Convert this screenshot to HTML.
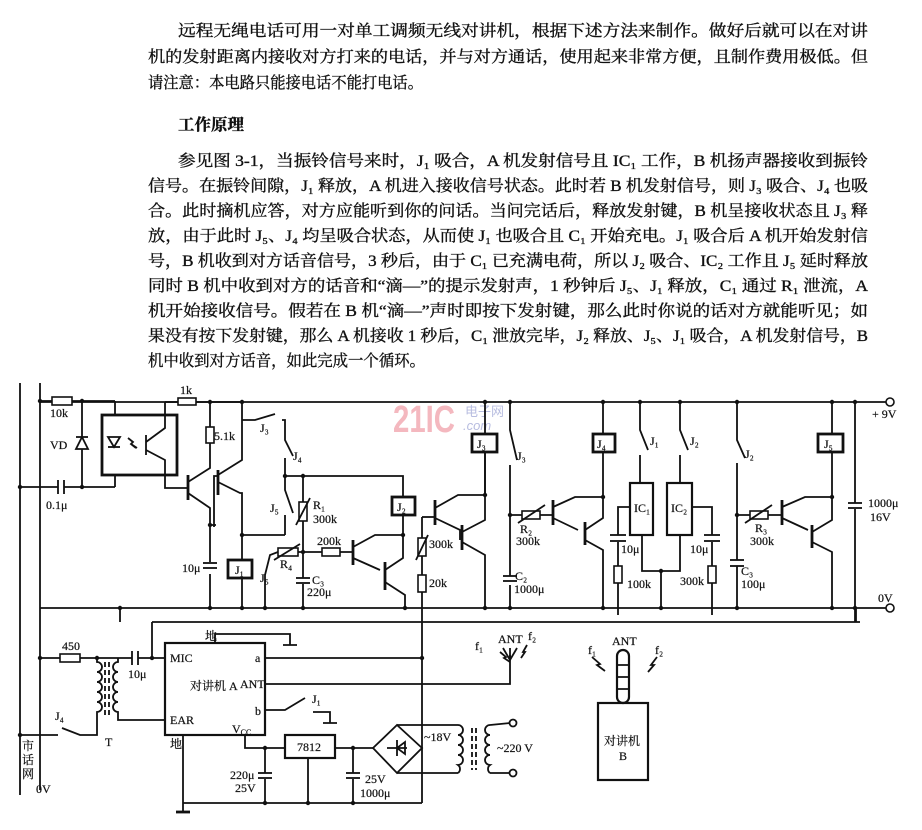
<!DOCTYPE html>
<html><head><meta charset="utf-8"><style>
html,body{margin:0;padding:0;background:#fff;}
svg{display:block}
.t{font-family:"Liberation Serif","Noto Serif CJK SC",serif;font-size:16px;fill:#111;stroke:#111;stroke-width:0.35}
.l{font-family:"Liberation Serif","Noto Serif CJK SC",serif;font-size:12px;fill:#111;stroke:#111;stroke-width:0.2}
.w{stroke:#111;stroke-width:1.8;fill:none}
.b{stroke:#111;stroke-width:2.8;fill:#fff}
.r{stroke:#111;stroke-width:1.6;fill:#fff}
</style></head><body>
<svg width="922" height="830" viewBox="0 0 922 830" xmlns="http://www.w3.org/2000/svg">
<g class="t">
<text x="178" y="36" textLength="690" lengthAdjust="spacingAndGlyphs">远程无绳电话可用一对单工调频无线对讲机，根据下述方法来制作。做好后就可以在对讲</text>
<text x="148" y="62" textLength="720" lengthAdjust="spacingAndGlyphs">机的发射距离内接收对方打来的电话，并与对方通话，使用起来非常方便，且制作费用极低。但</text>
<text x="148" y="88" textLength="275" lengthAdjust="spacingAndGlyphs">请注意：本电路只能接电话不能打电话。</text>
<text x="178" y="130" font-weight="bold" textLength="66" lengthAdjust="spacingAndGlyphs">工作原理</text>
<text x="178" y="166" textLength="690" lengthAdjust="spacingAndGlyphs">参见图 3-1，当振铃信号来时，J₁ 吸合，A 机发射信号且 IC₁ 工作，B 机扬声器接收到振铃</text>
<text x="148" y="191" textLength="720" lengthAdjust="spacingAndGlyphs">信号。在振铃间隙，J₁ 释放，A 机进入接收信号状态。此时若 B 机发射信号，则 J₃ 吸合、J₄ 也吸</text>
<text x="148" y="216" textLength="720" lengthAdjust="spacingAndGlyphs">合。此时摘机应答，对方应能听到你的问话。当问完话后，释放发射键，B 机呈接收状态且 J₃ 释</text>
<text x="148" y="241" textLength="720" lengthAdjust="spacingAndGlyphs">放，由于此时 J₅、J₄ 均呈吸合状态，从而使 J₁ 也吸合且 C₁ 开始充电。J₁ 吸合后 A 机开始发射信</text>
<text x="148" y="266" textLength="720" lengthAdjust="spacingAndGlyphs">号，B 机收到对方话音信号，3 秒后，由于 C₁ 已充满电荷，所以 J₂ 吸合、IC₂ 工作且 J₅ 延时释放</text>
<text x="148" y="291" textLength="720" lengthAdjust="spacingAndGlyphs">同时 B 机中收到对方的话音和“滴—”的提示发射声，1 秒钟后 J₅、J₁ 释放，C₁ 通过 R₁ 泄流，A</text>
<text x="148" y="316" textLength="720" lengthAdjust="spacingAndGlyphs">机开始接收信号。假若在 B 机“滴—”声时即按下发射键，那么此时你说的话对方就能听见；如</text>
<text x="148" y="341" textLength="720" lengthAdjust="spacingAndGlyphs">果没有按下发射键，那么 A 机接收 1 秒后，C₁ 泄放完毕，J₂ 释放、J₅、J₁ 吸合，A 机发射信号，B</text>
<text x="148" y="366" textLength="277" lengthAdjust="spacingAndGlyphs">机中收到对方话音，如此完成一个循环。</text>
</g>

<text x="393" y="432" font-family="Liberation Sans,sans-serif" font-weight="bold" font-size="38" fill="#f4b8bf" textLength="62" lengthAdjust="spacingAndGlyphs">21IC</text>
<text x="465" y="416" font-family="Liberation Sans,Noto Sans CJK SC,sans-serif" font-size="13" fill="#b8bde0">电子网</text>
<text x="463" y="430" font-family="Liberation Sans,sans-serif" font-style="italic" font-size="13" fill="#b8bde0">.com</text>

<g class="w">
<line x1="20" y1="383" x2="20" y2="795"/>
<line x1="40" y1="383" x2="40" y2="790"/>
<line x1="40" y1="402" x2="886" y2="402"/>
<line x1="40" y1="608" x2="886" y2="608"/>
<line x1="152" y1="622" x2="860" y2="622"/>
<line x1="856" y1="608" x2="856" y2="622"/>
<line x1="40" y1="401" x2="52" y2="401"/><line x1="72" y1="401" x2="115" y2="401"/>
<line x1="82" y1="401" x2="82" y2="487"/>
<line x1="20" y1="487" x2="58" y2="487"/><line x1="64" y1="487" x2="115" y2="487"/>
<line x1="58" y1="480" x2="58" y2="494"/><line x1="64" y1="480" x2="64" y2="494"/>
<line x1="115" y1="401" x2="115" y2="415"/><line x1="115" y1="475" x2="115" y2="487"/>
<polygon points="76,449 88,449 82,437" fill="#fff"/><line x1="76" y1="437" x2="88" y2="437"/>
<rect x="102" y="415" width="75" height="60" stroke-width="2.8"/>
<polygon points="108,437 120,437 114,447"/><line x1="108" y1="447" x2="120" y2="447"/>
<path d="M128 438 l5 4 l-2 2 l6 4 M131 444 l5 4"/>
<line x1="146" y1="435" x2="146" y2="455"/>
<path d="M146 442 L165 428 L165 402 M146 450 L165 460 L165 480 L165 488 L186 488"/>
<line x1="165" y1="402" x2="178" y2="402"/><line x1="196" y1="402" x2="242" y2="402"/>
<line x1="188" y1="475" x2="188" y2="500" stroke-width="2.8"/>
<path d="M186 488 L188 488 M188 482 L210 468 L210 443 M188 493 L210 508 L210 525 L216 525"/>
<line x1="210" y1="402" x2="210" y2="427"/>
<line x1="218" y1="470" x2="218" y2="495" stroke-width="2.8"/>
<path d="M214 527 L214 476 L218 476 M218 475 L242 460 L242 402 M218 482 L240 493 L242 493 L242 535"/>
<line x1="210" y1="525" x2="210" y2="562"/><line x1="210" y1="574" x2="210" y2="608"/>
<line x1="203" y1="563" x2="217" y2="563"/><line x1="203" y1="568" x2="217" y2="568"/>
<line x1="242" y1="535" x2="285" y2="535"/>
<line x1="242" y1="535" x2="242" y2="560"/><line x1="242" y1="578" x2="242" y2="608"/>
<path d="M242 420 L255 420 L275 414 M282 420 L285 420 L285 440 L293 456 M285 458 L285 476"/>
<path d="M285 476 L403 476 L403 497 M403 515 L403 535"/>
<path d="M285 476 L285 490 L293 513 M285 515 L285 535"/>
<line x1="303" y1="476" x2="303" y2="502"/><line x1="303" y1="521" x2="303" y2="578"/>
<path d="M265 608 L265 575 L270 555 L278 552 M298 552 L322 552 M340 552 L352 552"/>
<line x1="303" y1="584" x2="303" y2="608"/>
<line x1="296" y1="578" x2="310" y2="578"/><line x1="296" y1="583" x2="310" y2="583"/>
<line x1="353" y1="540" x2="353" y2="565" stroke-width="2.8"/>
<path d="M353 547 L375 535 L403 535 M353 558 L380 570 M385 565 L385 585"/>
<line x1="385" y1="562" x2="385" y2="590" stroke-width="2.8"/>
<path d="M385 570 L403 558 L403 535 M385 582 L405 595 L405 608"/>
<path d="M422 517 L435 517"/>
<line x1="422" y1="517" x2="422" y2="538"/><line x1="422" y1="556" x2="422" y2="575"/><line x1="422" y1="592" x2="422" y2="803"/>
<line x1="435" y1="500" x2="435" y2="525" stroke-width="2.8"/>
<path d="M435 508 L458 495 L485 495 L485 402 M435 518 L460 530 L460 540"/>
<line x1="462" y1="525" x2="462" y2="550" stroke-width="2.8"/>
<path d="M462 532 L485 520 L485 452 M462 542 L485 555 L485 608"/>
<path d="M510 402 L510 430 L517 460 M510 465 L510 576 M510 585 L510 608"/>
<line x1="503" y1="576" x2="517" y2="576"/><line x1="503" y1="581" x2="517" y2="581"/>
<path d="M510 515 L522 515 M540 515 L553 515"/>
<line x1="553" y1="500" x2="553" y2="525" stroke-width="2.8"/>
<path d="M553 507 L575 497 L603 497 L603 452 M553 518 L578 530"/>
<line x1="585" y1="522" x2="585" y2="545" stroke-width="2.8"/>
<path d="M585 530 L603 518 L603 497 M585 540 L603 550 L603 608"/>
<line x1="603" y1="402" x2="603" y2="435"/>
<path d="M640 402 L640 430 L648 450 M640 455 L640 483"/>
<path d="M680 402 L680 430 L688 450 M680 455 L680 483"/>
<path d="M630 507 L618 507 L618 535 M618 542 L618 566 M618 583 L618 615"/>
<line x1="610" y1="535" x2="626" y2="535"/><line x1="610" y1="541" x2="626" y2="541"/>
<path d="M692 507 L712 507 L712 535 M712 542 L712 566 M712 583 L712 615"/>
<line x1="704" y1="535" x2="720" y2="535"/><line x1="704" y1="541" x2="720" y2="541"/>
<path d="M642 535 L642 571 L680 571 L680 535 M661 571 L661 608"/>
<path d="M737 402 L737 440 L745 458 M737 463 L737 560 M737 566 L737 608"/>
<line x1="730" y1="560" x2="744" y2="560"/><line x1="730" y1="566" x2="744" y2="566"/>
<path d="M737 515 L750 515 M768 515 L782 515"/>
<line x1="782" y1="500" x2="782" y2="525" stroke-width="2.8"/>
<path d="M782 507 L805 497 L832 497 L832 452 M782 518 L808 530"/>
<line x1="812" y1="525" x2="812" y2="548" stroke-width="2.8"/>
<path d="M812 532 L832 520 L832 497 M812 542 L832 552 L832 608"/>
<line x1="832" y1="402" x2="832" y2="434"/>
<line x1="855" y1="402" x2="855" y2="503"/><line x1="855" y1="509" x2="855" y2="622"/>
<line x1="848" y1="503" x2="862" y2="503"/><line x1="848" y1="508" x2="862" y2="508"/>

<line x1="40" y1="658" x2="60" y2="658"/><line x1="80" y1="658" x2="132" y2="658"/><line x1="138" y1="658" x2="165" y2="658"/>
<line x1="132" y1="651" x2="132" y2="665"/><line x1="138" y1="651" x2="138" y2="665"/>
<line x1="152" y1="622" x2="152" y2="658"/>
<path d="M97 658 L97 662 a5 5 0 0 1 0 10 a5 5 0 0 1 0 10 a5 5 0 0 1 0 10 a5 5 0 0 1 0 10 a5 5 0 0 1 0 10 L97 735 L80 735 L62 728 M58 735 L20 735"/>
<path d="M118 658 L118 662 a5 5 0 0 0 0 10 a5 5 0 0 0 0 10 a5 5 0 0 0 0 10 a5 5 0 0 0 0 10 a5 5 0 0 0 0 10 L118 720 L165 720"/>
<line x1="105" y1="662" x2="105" y2="715" stroke-dasharray="5,3"/><line x1="109" y1="662" x2="109" y2="715" stroke-dasharray="5,3"/>
<rect x="165" y="643" width="100" height="92" stroke-width="2.2"/>
<path d="M215 643 L215 634 L290 634 L290 645 M283 645 L297 645"/>
<path d="M265 658 L422 658 M265 684 L510 684 L510 655"/>
<path d="M503 648 L510 660 L517 648 M510 648 L510 660"/>
<path d="M265 710 L285 710 L305 698 M313 712 L330 712 L330 723 M323 723 L337 723"/>
<path d="M245 735 L245 748 L285 748 M335 748 L373 748"/>
<line x1="183" y1="735" x2="183" y2="812"/><line x1="176" y1="812" x2="190" y2="812" stroke-width="2.8"/>
<line x1="183" y1="803" x2="422" y2="803"/>
<line x1="265" y1="748" x2="265" y2="773"/><line x1="265" y1="779" x2="265" y2="803"/>
<line x1="258" y1="773" x2="272" y2="773"/><line x1="258" y1="778" x2="272" y2="778"/>
<line x1="308" y1="758" x2="308" y2="803"/>
<line x1="353" y1="748" x2="353" y2="773"/><line x1="353" y1="779" x2="353" y2="803"/>
<line x1="346" y1="773" x2="360" y2="773"/><line x1="346" y1="778" x2="360" y2="778"/>
<polygon points="397,725 422,748 397,773 373,748"/>
<path d="M387 748 L407 748 M397 740 L397 756 M397 748 L405 742 L405 754 Z"/>
<path d="M397 725 L458 725 M397 773 L458 773"/>
<path d="M458 725 a5 5 0 0 1 0 10 a5 5 0 0 1 0 10 a5 5 0 0 1 0 10 a5 5 0 0 1 0 10 a5 5 0 0 1 0 8"/>
<path d="M490 725 a5 5 0 0 0 0 10 a5 5 0 0 0 0 10 a5 5 0 0 0 0 10 a5 5 0 0 0 0 10 a5 5 0 0 0 0 8"/>
<line x1="472" y1="728" x2="472" y2="770" stroke-dasharray="5,3"/><line x1="476" y1="728" x2="476" y2="770" stroke-dasharray="5,3"/>
<path d="M490 725 L510 723 M490 773 L510 773"/>
<circle cx="513" cy="723" r="3.5"/><circle cx="513" cy="773" r="3.5"/>
<rect x="598" y="703" width="50" height="77" stroke-width="2.2"/>
<rect x="617" y="650" width="12" height="53" rx="6" stroke-width="2.2"/>
<path d="M617 665 h12 M617 677 h12 M617 689 h12"/>
<path d="M592 657 l8 7 l-3 1 l8 6 M500 652 l6 5 l-2 1 l6 4"/>
<path d="M657 657 l-6 8 l3 0 l-6 7 M527 645 l-4 7 l2 0 l-4 6"/>
</g>
<g class="r">
<rect x="52" y="397" width="20" height="8"/>
<rect x="178" y="398" width="18" height="7"/>
<rect x="206" y="427" width="8" height="16"/>
<rect x="299" y="502" width="8" height="19"/>
<rect x="278" y="548" width="20" height="8"/>
<rect x="322" y="548" width="18" height="8"/>
<rect x="418" y="538" width="8" height="18"/>
<rect x="418" y="575" width="8" height="17"/>
<rect x="522" y="511" width="18" height="8"/>
<rect x="614" y="566" width="8" height="17"/>
<rect x="708" y="566" width="8" height="17"/>
<rect x="750" y="511" width="18" height="8"/>
<rect x="60" y="654" width="20" height="8"/>
<rect x="630" y="483" width="23" height="52" stroke-width="2.2"/>
<rect x="667" y="483" width="25" height="52" stroke-width="2.2"/>
<rect x="285" y="735" width="50" height="23" stroke-width="2.2"/>
</g>
<g class="w" stroke-width="1.2">
<path d="M296 525 L310 498 M274 560 L300 544 M416 560 L428 535 M518 523 L545 505 M745 523 L772 505"/>
</g>
<g class="b">
<rect x="228" y="560" width="24" height="18"/>
<rect x="392" y="497" width="23" height="18"/>
<rect x="472" y="434" width="25" height="18"/>
<rect x="593" y="434" width="22" height="18"/>
<rect x="818" y="434" width="25" height="18"/>
</g>
<circle cx="890" cy="402" r="4" fill="#fff" stroke="#111" stroke-width="1.6"/>
<circle cx="890" cy="608" r="4" fill="#fff" stroke="#111" stroke-width="1.6"/>
<g fill="#111">
<circle cx="40" cy="401" r="2.2"/><circle cx="82" cy="401" r="2.2"/><circle cx="82" cy="487" r="2.2"/><circle cx="20" cy="487" r="2.2"/>
<circle cx="210" cy="402" r="2.2"/><circle cx="242" cy="402" r="2.2"/><circle cx="210" cy="525" r="2.2"/><circle cx="242" cy="535" r="2.2"/>
<circle cx="285" cy="476" r="2.2"/><circle cx="303" cy="476" r="2.2"/><circle cx="303" cy="552" r="2.2"/><circle cx="403" cy="535" r="2.2"/>
<circle cx="485" cy="402" r="2.2"/><circle cx="510" cy="402" r="2.2"/><circle cx="603" cy="402" r="2.2"/><circle cx="640" cy="402" r="2.2"/>
<circle cx="680" cy="402" r="2.2"/><circle cx="737" cy="402" r="2.2"/><circle cx="832" cy="402" r="2.2"/><circle cx="855" cy="402" r="2.2"/>
<circle cx="485" cy="495" r="2.2"/><circle cx="510" cy="515" r="2.2"/><circle cx="603" cy="497" r="2.2"/><circle cx="737" cy="515" r="2.2"/><circle cx="832" cy="497" r="2.2"/>
<circle cx="210" cy="608" r="2.2"/><circle cx="242" cy="608" r="2.2"/><circle cx="265" cy="608" r="2.2"/><circle cx="303" cy="608" r="2.2"/><circle cx="405" cy="608" r="2.2"/>
<circle cx="485" cy="608" r="2.2"/><circle cx="510" cy="608" r="2.2"/><circle cx="603" cy="608" r="2.2"/><circle cx="661" cy="608" r="2.2"/><circle cx="737" cy="608" r="2.2"/><circle cx="832" cy="608" r="2.2"/><circle cx="855" cy="608" r="2.2"/>
<circle cx="661" cy="571" r="2.2"/><circle cx="120" cy="608" r="2.2"/>
<circle cx="40" cy="658" r="2.2"/><circle cx="97" cy="658" r="2.2"/><circle cx="152" cy="658" r="2.2"/><circle cx="20" cy="735" r="2.2"/><circle cx="422" cy="658" r="2.2"/>
<circle cx="265" cy="748" r="2.2"/><circle cx="353" cy="748" r="2.2"/><circle cx="265" cy="803" r="2.2"/><circle cx="308" cy="803" r="2.2"/><circle cx="353" cy="803" r="2.2"/>
</g>
<line x1="120" y1="608" x2="120" y2="622" stroke="#111" stroke-width="1.8"/>

<g class="l">
<text x="50" y="417">10k</text><text x="50" y="449">VD</text><text x="46" y="509">0.1μ</text>
<text x="180" y="394">1k</text><text x="214" y="440">5.1k</text>
<text x="260" y="432">J₃</text><text x="293" y="460">J₄</text><text x="270" y="512">J₅</text>
<text x="313" y="509">R₁</text><text x="313" y="523">300k</text>
<text x="235" y="574">J₁</text><text x="260" y="582">J₅</text>
<text x="280" y="568">R₄</text><text x="317" y="545">200k</text><text x="312" y="584">C₃</text><text x="307" y="596">220μ</text>
<text x="182" y="572">10μ</text>
<text x="397" y="511">J₂</text><text x="429" y="548">300k</text><text x="429" y="587">20k</text>
<text x="477" y="448">J₃</text><text x="517" y="460">J₃</text>
<text x="520" y="533">R₂</text><text x="516" y="545">300k</text><text x="515" y="580">C₂</text><text x="514" y="593">1000μ</text>
<text x="597" y="448">J₄</text><text x="650" y="445">J₁</text><text x="690" y="445">J₂</text>
<text x="634" y="512">IC₁</text><text x="671" y="512">IC₂</text>
<text x="621" y="553">10μ</text><text x="690" y="553">10μ</text><text x="627" y="588">100k</text><text x="680" y="585">300k</text>
<text x="745" y="458">J₂</text><text x="755" y="532">R₃</text><text x="750" y="545">300k</text>
<text x="741" y="575">C₃</text><text x="741" y="588">100μ</text>
<text x="824" y="448">J₅</text><text x="868" y="507">1000μ</text><text x="870" y="521">16V</text>
<text x="872" y="418">+ 9V</text><text x="878" y="602">0V</text>
<text x="62" y="650">450</text><text x="128" y="678">10μ</text><text x="105" y="746">T</text><text x="55" y="720">J₄</text>
<text x="205" y="640">地</text><text x="170" y="662">MIC</text><text x="255" y="662">a</text><text x="240" y="688">ANT</text>
<text x="255" y="715">b</text><text x="170" y="724">EAR</text><text x="232" y="733">V<tspan font-size="8" dy="2">CC</tspan></text>
<text x="190" y="690">对讲机 A</text><text x="170" y="748">地</text><text x="312" y="703">J₁</text>
<text x="297" y="751">7812</text>
<text x="230" y="779">220μ</text><text x="235" y="792">25V</text><text x="365" y="783">25V</text><text x="360" y="797">1000μ</text>
<text x="424" y="741">~18V</text><text x="497" y="752">~220 V</text>
<text x="498" y="643">ANT</text><text x="475" y="650">f₁</text><text x="528" y="640">f₂</text>
<text x="612" y="645">ANT</text><text x="588" y="654">f₁</text><text x="655" y="654">f₂</text>
<text x="604" y="745">对讲机</text><text x="619" y="760">B</text>
<text x="22" y="750">市</text><text x="22" y="764">话</text><text x="22" y="778">网</text><text x="36" y="793">0V</text>
</g>
</svg>
</body></html>
